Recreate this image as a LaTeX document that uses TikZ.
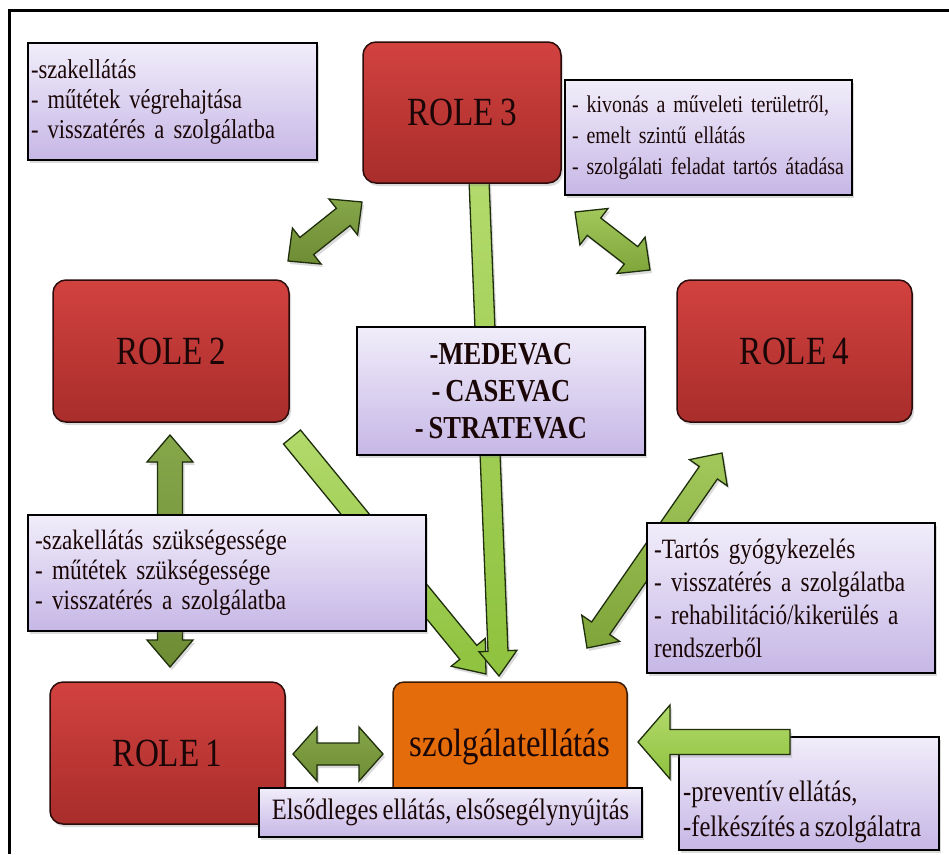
\documentclass[tikz,border=0pt]{standalone}
\usepackage{fontspec}
\setmainfont{Liberation Serif}[FakeStretch=0.83, WordSpace=0.72]
\usetikzlibrary{calc,shadows}
\definecolor{redtop}{HTML}{D2423F}
\definecolor{redbot}{HTML}{A82D2B}
\definecolor{redline}{HTML}{2B0C0B}
\definecolor{purtop}{HTML}{F1EDFA}
\definecolor{purbot}{HTML}{C6B7E6}
\definecolor{orng}{HTML}{E46C0A}
\definecolor{orngline}{HTML}{3A1C05}
\definecolor{dgreen}{HTML}{6E8C34}
\definecolor{dgreenl}{HTML}{86A64A}
\definecolor{mgreen}{HTML}{7FA53A}
\definecolor{mgreenl}{HTML}{A2C85C}
\definecolor{lgreen}{HTML}{8FC23E}
\definecolor{lgreenl}{HTML}{B2DA6C}
\definecolor{gline}{HTML}{1F2E0C}
\definecolor{txtdark}{HTML}{1A0606}

\newcommand\dblarr[6]{%
  \filldraw[#6] (#1)
    -- ($(#1)!#5!(#2)!#4!90:(#2)$)
    -- ($(#1)!#5!(#2)!#3!90:(#2)$)
    -- ($(#2)!#5!(#1)!#3!90:(#2)$)
    -- ($(#2)!#5!(#1)!#4!90:(#2)$)
    -- (#2)
    -- ($(#2)!#5!(#1)!#4!-90:(#2)$)
    -- ($(#2)!#5!(#1)!#3!-90:(#2)$)
    -- ($(#1)!#5!(#2)!#3!-90:(#2)$)
    -- ($(#1)!#5!(#2)!#4!-90:(#2)$)
    -- cycle;}
\newcommand\sglarr[6]{%
  \filldraw[#6] ($(#1)!#3!90:(#2)$)
    -- ($(#2)!#5!(#1)!#3!90:(#2)$)
    -- ($(#2)!#5!(#1)!#4!90:(#2)$)
    -- (#2)
    -- ($(#2)!#5!(#1)!#4!-90:(#2)$)
    -- ($(#2)!#5!(#1)!#3!-90:(#2)$)
    -- ($(#1)!#3!-90:(#2)$)
    -- cycle;}

\tikzset{
  myshadow/.style={drop shadow={opacity=0.28,shadow xshift=2pt,shadow yshift=-3pt}},
  rolebox/.style={draw=redline, line width=1.5pt, rounded corners=13pt,
    top color=redtop, bottom color=redbot, inner sep=0pt, myshadow,
    font=\fontsize{40}{42}\selectfont, text=txtdark},
  orangebox/.style={draw=orngline, line width=1.5pt, rounded corners=11pt,
    fill=orng, inner sep=0pt, myshadow,
    font=\fontsize{39.5}{42}\selectfont, text=txtdark},
  purbox/.style={draw=black, line width=2pt, top color=purtop, bottom color=purbot,
    inner sep=0pt, myshadow, font=\fontsize{28}{30}\selectfont, text=txtdark},
  listtext/.style={align=left},
  darrow/.style={draw=gline, line width=1.3pt, line join=miter,
    top color=dgreenl, bottom color=dgreen, myshadow},
  marrow/.style={draw=gline, line width=1.3pt, line join=miter,
    top color=mgreenl, bottom color=mgreen, myshadow},
  larrow/.style={draw=gline, line width=1.3pt, line join=miter,
    top color=lgreenl, bottom color=lgreen, myshadow},
}

\begin{document}
\begin{tikzpicture}[x=1pt,y=-1pt]
\useasboundingbox (0,0) rectangle (949,854);
\fill[white] (0,0) rectangle (949,854);
% outer frame (partly cut off)
\draw[line width=3pt] (9.5,854) -- (9.5,10) -- (949,10);

% coordinates of arrow ends
\coordinate (a32a) at (362,202); \coordinate (a32b) at (288,261);
\coordinate (a34a) at (575,212); \coordinate (a34b) at (650,270);
\coordinate (a3t) at (479,180);  \coordinate (a3h) at (499,676);
\coordinate (a2t) at (292,437);  \coordinate (a2h) at (486,674);
\coordinate (a21a) at (170,435); \coordinate (a21b) at (170,667);
\coordinate (a1a) at (293,754);  \coordinate (a1b) at (383,754);
\coordinate (a4a) at (722,453);  \coordinate (a4b) at (587,648);
\coordinate (abt) at (790,742);  \coordinate (abh) at (638,742);

% bottom-right box (lies under its arrow)
\node[purbox, minimum width=260pt, minimum height=113pt] (br) at (809,793.5) {};
\node[anchor=west, listtext, font=\fontsize{29.6}{35}\selectfont, text=txtdark, inner sep=0pt]
  (brt) at (683,812) {-preventív ellátás,\\-felkészítés a szolgálatra};

% arrows
\dblarr{a32a}{a32b}{11pt}{23pt}{24pt}{darrow}
\dblarr{a34a}{a34b}{11pt}{23pt}{24pt}{marrow}
\sglarr{a2t}{a2h}{11pt}{22pt}{28pt}{larrow}
\sglarr{a3t}{a3h}{10pt}{19pt}{25pt}{larrow}
\dblarr{a21a}{a21b}{12.5pt}{23pt}{27pt}{darrow}
\dblarr{a1a}{a1b}{11pt}{27pt}{24pt}{darrow}
\dblarr{a4a}{a4b}{11pt}{23pt}{24pt}{marrow}
\sglarr{abt}{abh}{12.5pt}{37pt}{32pt}{larrow}

% role boxes
\node[rolebox, minimum width=198pt, minimum height=141pt] (r3) at (462,112.5) {ROLE 3};
\node[rolebox, minimum width=236pt, minimum height=142pt] (r2) at (171,351) {ROLE 2};
\node[rolebox, minimum width=235pt, minimum height=142pt] (r4) at (794.5,351) {ROLE 4};
\node[rolebox, minimum width=235pt, minimum height=142pt] (r1) at (167.5,753) {ROLE 1};
\node[orangebox, minimum width=234pt, minimum height=130pt] (sz) at (510,747) {\raisebox{-4pt}{szolgálatellátás}};

% text boxes
\node[purbox, minimum width=289pt, minimum height=117pt, text width=283pt, listtext,
  font=\fontsize{27.2}{30}\selectfont] (tl) at (172.5,101.5)
  {\mbox{-szakellátás}\\\mbox{- műtétek végrehajtása}\\\mbox{- visszatérés a szolgálatba}};
\node[purbox, minimum width=287pt, minimum height=115pt, text width=273pt, listtext,
  font=\fontsize{24}{31}\selectfont] (tr) at (708.5,137.5)
  {\mbox{- kivonás a műveleti területről,}\\\mbox{- emelt szintű ellátás}\\\mbox{- szolgálati feladat tartós átadása}};
\node[purbox, minimum width=288pt, minimum height=128pt, align=center,
  font=\fontsize{32}{37}\selectfont\bfseries] (mc) at (501,391)
  {-MEDEVAC\\- CASEVAC\\- STRATEVAC};
\node[purbox, minimum width=398pt, minimum height=116pt, text width=384pt, listtext] (lm) at (227,573)
  {\mbox{-szakellátás szükségessége}\\\mbox{- műtétek szükségessége}\\\mbox{- visszatérés a szolgálatba}};
\node[purbox, minimum width=288pt, minimum height=150pt, text width=274pt, listtext,
  font=\fontsize{28}{33}\selectfont] (rm) at (791,598)
  {\mbox{-Tartós gyógykezelés}\\\mbox{- visszatérés a szolgálatba}\\\mbox{- rehabilitáció/kikerülés a}\\\mbox{rendszerből}};
\node[purbox, minimum width=383pt, minimum height=49pt, align=center,
  font=\fontsize{29.6}{31}\selectfont] (lb) at (450.5,812.5)
  {Elsődleges ellátás, elsősegélynyújtás};
\end{tikzpicture}
\end{document}
